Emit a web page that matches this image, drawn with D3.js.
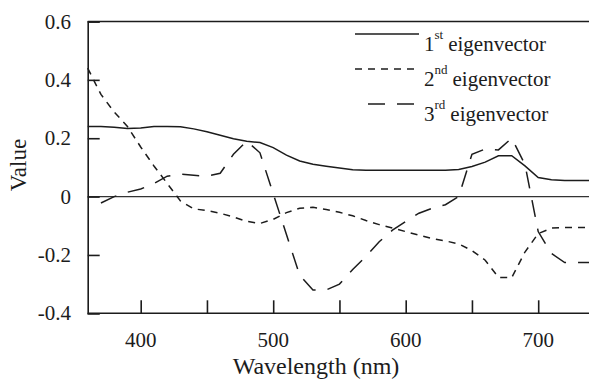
<!DOCTYPE html>
<html>
<head>
<meta charset="utf-8">
<script src="https://cdn.jsdelivr.net/npm/d3@7"></script>
<style>
  html, body { margin: 0; padding: 0; background: #fff; }
  svg { display: block; }
</style>
</head>
<body>
<svg id="chart" width="589" height="380"></svg>
<script>
// Wavelengths (nm) at which the eigenvectors are sampled
const wavelengths = [360, 370, 380, 390, 400, 410, 420, 430, 440, 450, 460, 470, 480, 490, 500,
  510, 520, 530, 540, 550, 560, 570, 580, 590, 600, 610, 620, 630, 640, 650,
  660, 670, 680, 690, 700, 710, 720, 730, 740];

const first = [0.24, 0.24, 0.238, 0.233, 0.235, 0.24, 0.24, 0.239, 0.232, 0.222, 0.21, 0.198, 0.19, 0.185, 0.168,
  0.142, 0.122, 0.111, 0.104, 0.098, 0.092, 0.09, 0.09, 0.09, 0.09, 0.09, 0.09, 0.09, 0.093, 0.103,
  0.118, 0.14, 0.14, 0.105, 0.065, 0.058, 0.055, 0.055, 0.055];

const second = [0.44, 0.35, 0.29, 0.24, 0.17, 0.105, 0.045, -0.015, -0.042, -0.048, -0.057, -0.07, -0.085, -0.092, -0.078,
  -0.055, -0.04, -0.037, -0.044, -0.054, -0.066, -0.082, -0.096, -0.108, -0.12, -0.132, -0.144, -0.152, -0.162, -0.185,
  -0.218, -0.277, -0.278, -0.19, -0.127, -0.108, -0.106, -0.106, -0.106];

// The third eigenvector has no sample at 360 nm
const third = [null, -0.022, 0.0, 0.015, 0.026, 0.045, 0.07, 0.077, 0.073, 0.07, 0.08, 0.145, 0.19, 0.15, 0.01,
  -0.13, -0.27, -0.32, -0.32, -0.3, -0.25, -0.205, -0.155, -0.115, -0.085, -0.057, -0.04, -0.028, 0.0, 0.145,
  0.163, 0.16, 0.2, 0.11, -0.12, -0.195, -0.226, -0.226, -0.226];

const xTicks = [400, 450, 500, 550, 600, 650, 700];
const xTickLabels = [400, 500, 600, 700];
const yTicks = [-0.4, -0.2, 0, 0.2, 0.4, 0.6];
const yTickLabels = ["-0.4", "-0.2", "0", "0.2", "0.4", "0.6"];

const seriesNames = ["1", "2", "3"];
const seriesSuffix = ["st", "nd", "rd"];
const seriesValues = [first, second, third];
const seriesDash = [null, "7,6", "17,12"];

const serif = '"Liberation Serif", "Times New Roman", serif';
const svg = d3.select("#chart");
const ink = "#1c1c1c";

const x = d3.scaleLinear().domain([360, 740]).range([87.7, 591.2]);
const y = d3.scaleLinear().domain([-0.4, 0.6]).range([313.3, 21.5]);
const left = x.range()[0], right = 589;

// every label is placed through a transform
function label(parent, tx, ty, size, anchor, rotate) {
  return parent.append("text")
    .attr("transform", `translate(${tx},${ty})` + (rotate ? ` rotate(${rotate})` : ""))
    .style("font-family", serif)
    .style("font-size", size + "px")
    .attr("text-anchor", anchor)
    .attr("fill", ink);
}

// frame: top rule and zero line
svg.append("line").attr("x1", left).attr("x2", right).attr("y1", y(0.6)).attr("y2", y(0.6))
  .attr("stroke", ink).attr("stroke-width", 1.6);
svg.append("line").attr("x1", left).attr("x2", right).attr("y1", y(0)).attr("y2", y(0))
  .attr("stroke", "#333").attr("stroke-width", 1.1);

// y axis with inward ticks
const yAxis = d3.axisRight(y).tickValues(yTicks).tickSize(12).tickFormat("");
const gy = svg.append("g").attr("transform", `translate(${left},0)`).call(yAxis);
gy.select(".domain").attr("stroke", ink).attr("stroke-width", 1.6);
gy.selectAll(".tick line").attr("stroke", ink).attr("stroke-width", 1.6);

yTicks.forEach((d, i) => {
  label(svg, 71, y(d) + 7, 21, "end").text(yTickLabels[i]);
});

// x axis with inward ticks
const xAxis = d3.axisTop(x).tickValues(xTicks).tickSize(13).tickFormat("");
const gx = svg.append("g").attr("transform", `translate(0,${y(-0.4)})`).call(xAxis);
gx.select(".domain").remove();
gx.selectAll(".tick line").attr("stroke", ink).attr("stroke-width", 1.6);
svg.append("line").attr("x1", left).attr("x2", right).attr("y1", y(-0.4)).attr("y2", y(-0.4))
  .attr("stroke", ink).attr("stroke-width", 1.6);

xTickLabels.forEach(d => {
  label(svg, x(d), 347, 21, "middle").text(d);
});

// axis titles
label(svg, 316, 374, 24, "middle").text("Wavelength (nm)");
label(svg, 26, 165, 23, "middle", -90).text("Value");

// eigenvector curves
const line = d3.line()
  .defined(d => d[1] !== null)
  .x(d => x(d[0])).y(d => y(d[1]));

seriesValues.forEach((vals, i) => {
  svg.append("path")
    .datum(wavelengths.map((w, j) => [w, vals[j]]))
    .attr("d", line)
    .attr("fill", "none")
    .attr("stroke", ink)
    .attr("stroke-width", 1.5)
    .attr("stroke-dasharray", seriesDash[i]);
});

// legend
const legendY = [34, 69, 104];
const legendX1 = [355, 355, 368];
const legendX2 = [419, 419, 414];
const lg = svg.append("g");
seriesNames.forEach((n, i) => {
  lg.append("line")
    .attr("x1", legendX1[i]).attr("x2", legendX2[i])
    .attr("y1", legendY[i]).attr("y2", legendY[i])
    .attr("stroke", ink).attr("stroke-width", 1.5)
    .attr("stroke-dasharray", seriesDash[i]);
  const t = label(lg, 424, legendY[i] + 17, 21, "start");
  t.append("tspan").text(n);
  t.append("tspan").style("font-size", "13px").attr("dy", -12).text(seriesSuffix[i]);
  t.append("tspan").style("font-size", "21px").attr("dy", 12).attr("dx", 5).text("eigenvector");
});
</script>
</body>
</html>
